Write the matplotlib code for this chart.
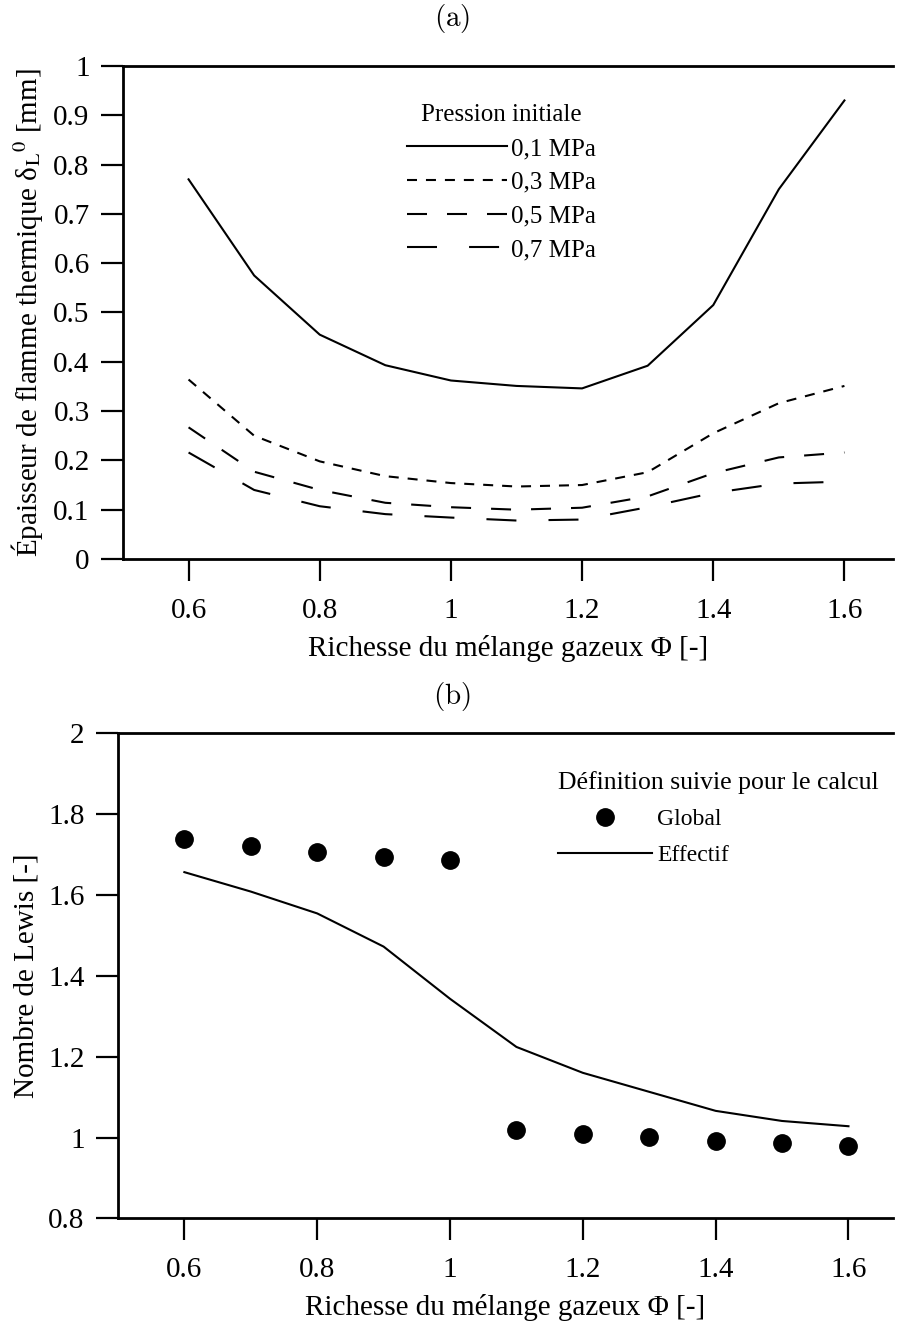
import matplotlib
matplotlib.use("Agg")
import matplotlib.pyplot as plt
from matplotlib.lines import Line2D

# ── Data ──────────────────────────────────────────────────────────────────────
phi = [0.6, 0.7, 0.8, 0.9, 1.0, 1.1, 1.2, 1.3, 1.4, 1.5, 1.6]

# (a) thermal flame thickness [mm] per initial pressure
delta_01 = [0.770, 0.575, 0.455, 0.393, 0.362, 0.351, 0.346, 0.392, 0.515, 0.750, 0.930]
delta_03 = [0.364, 0.250, 0.198, 0.168, 0.154, 0.147, 0.150, 0.176, 0.255, 0.316, 0.351]
delta_05 = [0.267, 0.177, 0.140, 0.114, 0.105, 0.100, 0.104, 0.127, 0.174, 0.206, 0.216]
delta_07 = [0.216, 0.140, 0.107, 0.091, 0.084, 0.078, 0.080, 0.105, 0.134, 0.153, 0.157]
pressure_labels = ["0,1 MPa", "0,3 MPa", "0,5 MPa", "0,7 MPa"]

# (b) Lewis number
lewis_global = [1.737, 1.720, 1.707, 1.693, 1.685, 1.018, 1.008, 1.002, 0.992, 0.986, 0.980]
lewis_eff = [1.656, 1.608, 1.554, 1.472, 1.343, 1.224, 1.160, 1.113, 1.066, 1.041, 1.028]

# ── Style ─────────────────────────────────────────────────────────────────────
plt.rcParams["font.family"] = ["Liberation Serif", "DejaVu Serif"]
plt.rcParams["mathtext.fontset"] = "stix"

LW = 1.5
dash_styles = [
    "-",
    (0, (4.8, 4.3)),
    (0, (9.6, 9.6)),
    (0, (14.4, 15.4)),
]

fig = plt.figure(figsize=(8.97, 13.24), dpi=100)
ax1 = fig.add_axes([0.1371, 0.5778, 0.8584, 0.3724])
ax2 = fig.add_axes([0.1315, 0.0797, 0.8640, 0.3667])


def style_axes(ax):
    ax.spines["right"].set_visible(False)
    for s in ("left", "bottom", "top"):
        ax.spines[s].set_linewidth(2.0)
    ax.tick_params(axis="both", direction="out", length=16, width=1.6,
                   labelsize=21, pad=8)
    ax.tick_params(axis="x", pad=12)
    ax.tick_params(top=False, right=False)


# ── Panel (a) ─────────────────────────────────────────────────────────────────
for vals, ls, lab in zip([delta_01, delta_03, delta_05, delta_07],
                         dash_styles, pressure_labels):
    ax1.plot(phi, vals, color="black", linestyle=ls, linewidth=LW, label=lab)

ax1.set_xlim(0.5, 1.674)
ax1.set_ylim(0, 1)
ax1.set_xticks([0.6, 0.8, 1.0, 1.2, 1.4, 1.6])
ax1.set_xticklabels(["0.6", "0.8", "1", "1.2", "1.4", "1.6"])
ax1.set_yticks([0, 0.1, 0.2, 0.3, 0.4, 0.5, 0.6, 0.7, 0.8, 0.9, 1.0])
ax1.set_yticklabels(["0", "0.1", "0.2", "0.3", "0.4", "0.5", "0.6",
                     "0.7", "0.8", "0.9", "1"])
style_axes(ax1)
ax1.set_xlabel("Richesse du mélange gazeux Φ [-]", fontsize=21, labelpad=8)
ax1.set_ylabel(r"Épaisseur de flamme thermique δ$_{\mathrm{L}}{}^{0}$ [mm]",
               fontsize=21, labelpad=6)
leg1 = ax1.legend(loc="upper left", bbox_to_anchor=(0.340, 0.968),
                  frameon=False, title="Pression initiale", fontsize=18,
                  title_fontsize=18, handlelength=4.0, handletextpad=0.15,
                  labelspacing=0.45)

# ── Panel (b) ─────────────────────────────────────────────────────────────────
ax2.plot(phi, lewis_global, linestyle="none", marker="o", markersize=12.5,
         color="black")
ax2.plot(phi, lewis_eff, color="black", linewidth=LW)
ax2.set_xlim(0.5, 1.667)
ax2.set_ylim(0.8, 2.0)
ax2.set_xticks([0.6, 0.8, 1.0, 1.2, 1.4, 1.6])
ax2.set_xticklabels(["0.6", "0.8", "1", "1.2", "1.4", "1.6"])
ax2.set_yticks([0.8, 1.0, 1.2, 1.4, 1.6, 1.8, 2.0])
ax2.set_yticklabels(["0.8", "1", "1.2", "1.4", "1.6", "1.8", "2"])
style_axes(ax2)
ax2.set_xlabel("Richesse du mélange gazeux Φ [-]", fontsize=21, labelpad=8)
ax2.set_ylabel("Nombre de Lewis [-]", fontsize=21, labelpad=6)

handles = [
    Line2D([], [], linestyle="none", marker="o", markersize=12.5, color="black"),
    Line2D([], [], color="black", linewidth=LW),
]
leg2 = ax2.legend(handles, ["Global", "Effectif"], loc="upper left",
                  bbox_to_anchor=(0.540, 0.966), frameon=False,
                  title="Définition suivie pour le calcul", fontsize=17,
                  title_fontsize=18.5, handlelength=4.0, handletextpad=0.2,
                  labelspacing=0.62, alignment="left")

# panel tags in Computer Modern
fig.text(0.504, 0.986, r"$\mathrm{(a)}$", ha="center", va="center",
         fontsize=21, math_fontfamily="cm")
fig.text(0.504, 0.4736, r"$\mathrm{(b)}$", ha="center", va="center",
         fontsize=21, math_fontfamily="cm")

fig.savefig("out.png", dpi=100)
